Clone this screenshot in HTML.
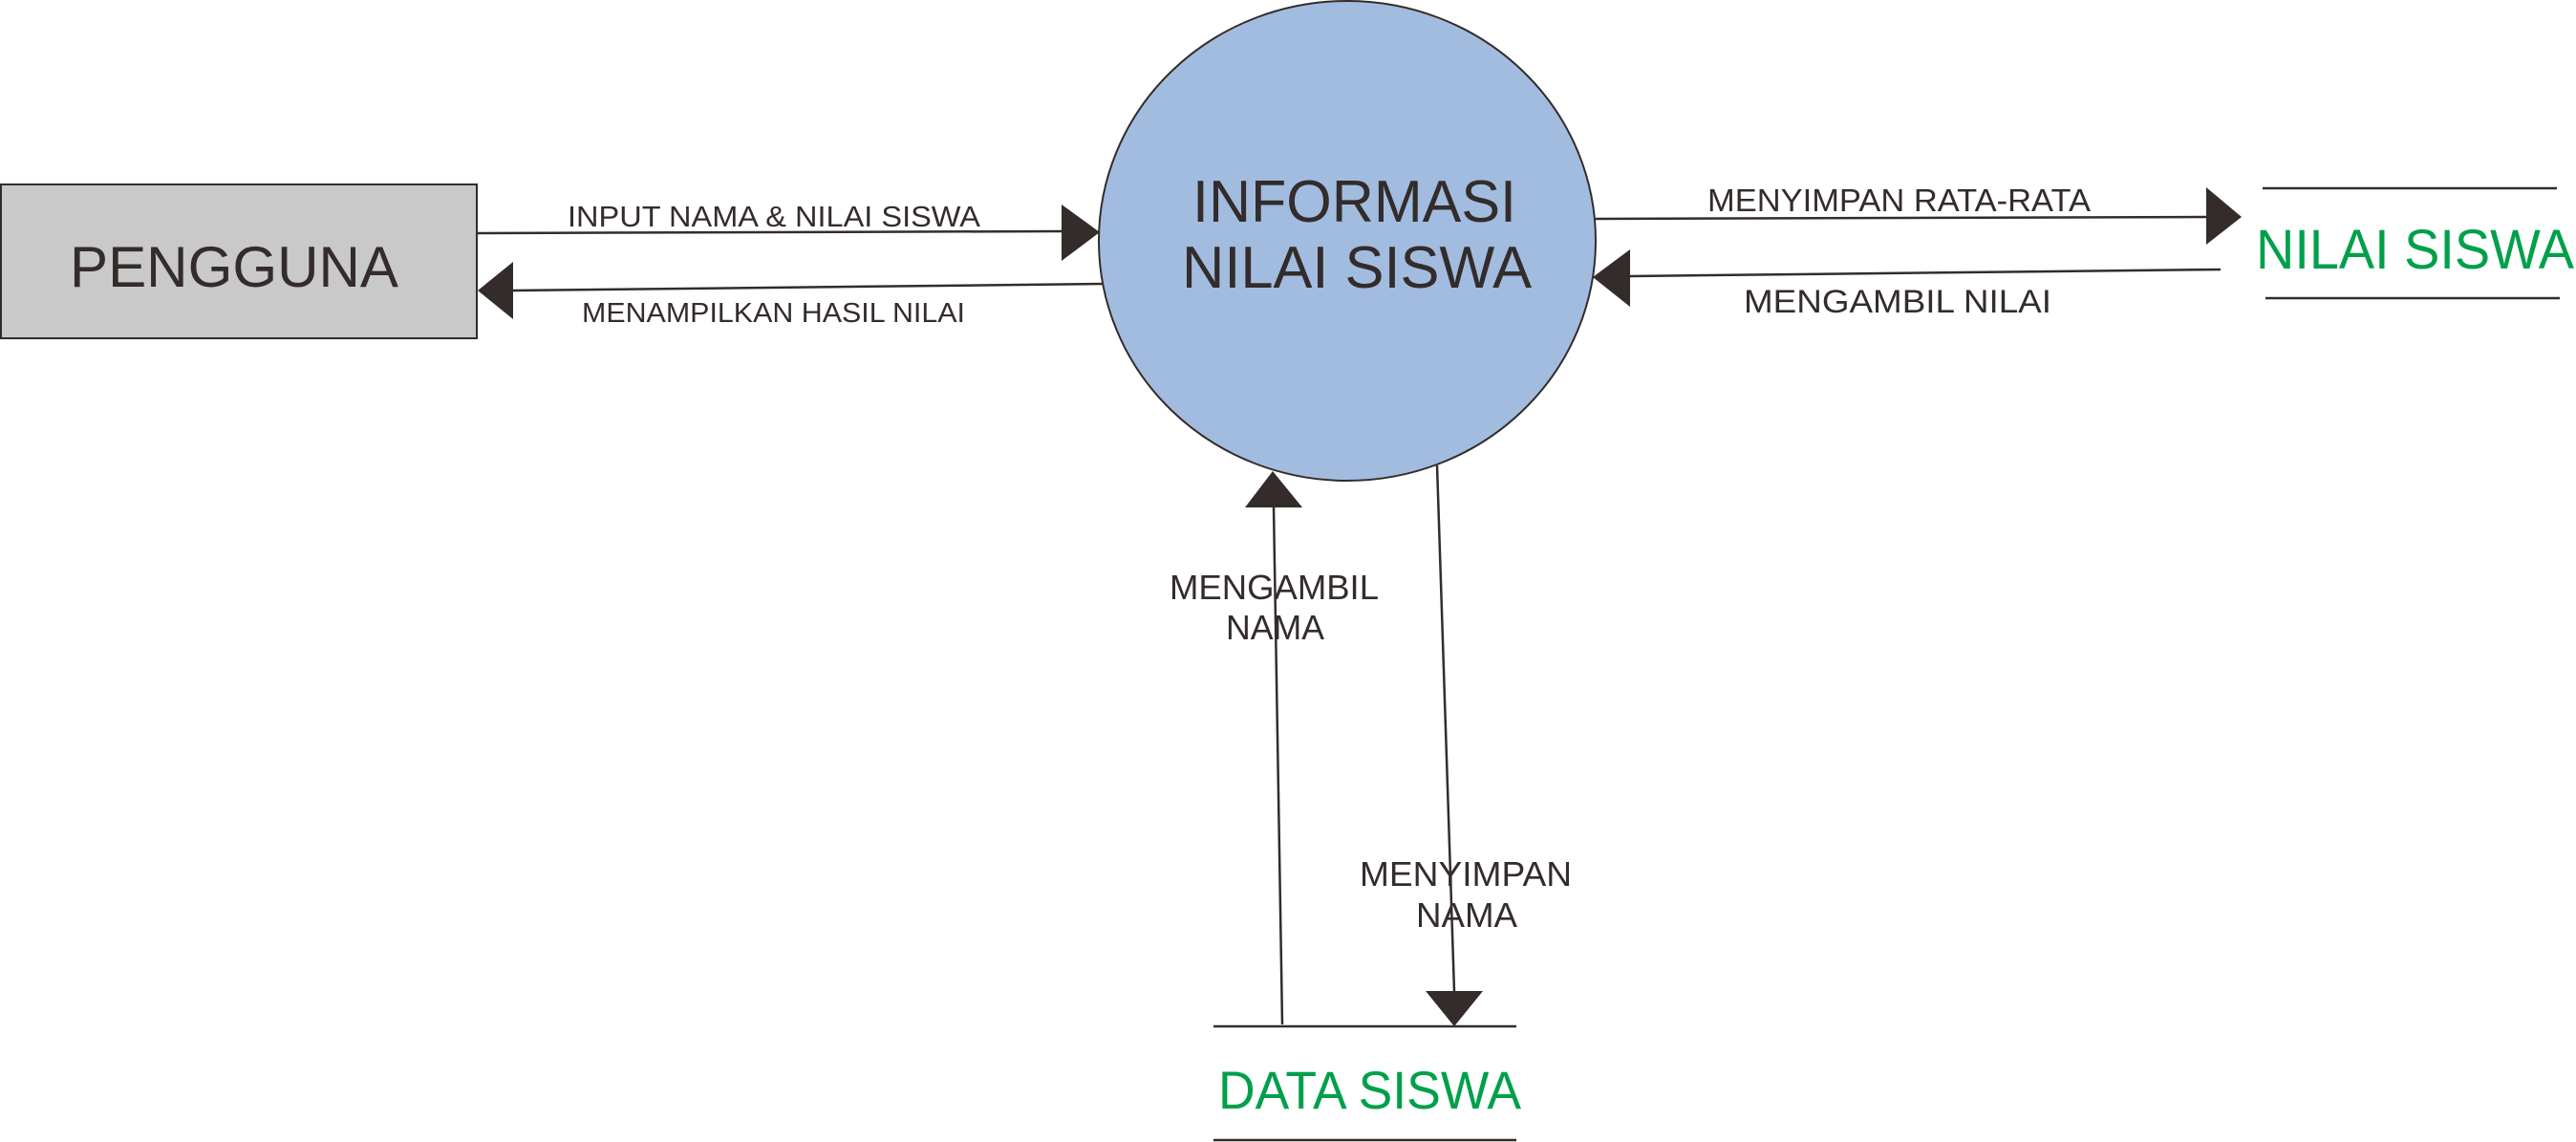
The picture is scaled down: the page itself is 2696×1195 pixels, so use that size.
<!DOCTYPE html>
<html><head><meta charset="utf-8"><style>html,body{margin:0;padding:0;background:#fff;}svg{display:block;}</style></head>
<body>
<svg width="2696" height="1195" viewBox="0 0 2696 1195" xmlns="http://www.w3.org/2000/svg" font-family="Liberation Sans, Arial, sans-serif">
<rect x="1" y="193" width="498" height="161" fill="#c8c9c8" stroke="#332c2b" stroke-width="2"/>
<text x="73" y="300" font-size="60" fill="#332c2b" textLength="344" lengthAdjust="spacingAndGlyphs">PENGGUNA</text>
<ellipse cx="1410" cy="252" rx="260" ry="251" fill="#a2bce0" stroke="#332c2b" stroke-width="2"/>
<text x="1248" y="232" font-size="62" fill="#332c2b" textLength="339" lengthAdjust="spacingAndGlyphs">INFORMASI</text>
<text x="1237" y="301" font-size="62" fill="#332c2b" textLength="366" lengthAdjust="spacingAndGlyphs">NILAI SISWA</text>
<g stroke="#332c2b" stroke-width="2.5" fill="none">
<line x1="499" y1="244" x2="1112" y2="242"/>
<line x1="1155" y1="297" x2="537" y2="304"/>
<line x1="1670" y1="229" x2="2310" y2="227"/>
<line x1="2324" y1="282" x2="1706" y2="289"/>
<line x1="1342" y1="1072" x2="1333" y2="530"/>
<line x1="1504" y1="487" x2="1522" y2="1038"/>
<line x1="2368" y1="197" x2="2676" y2="197"/>
<line x1="2371" y1="312" x2="2679" y2="312"/>
<line x1="1270" y1="1074" x2="1587" y2="1074"/>
<line x1="1270" y1="1193" x2="1587" y2="1193"/>
</g>
<g fill="#332c2b">
<polygon points="1111,214 1151,243 1111,273"/>
<polygon points="537,274 500,304 537,334"/>
<polygon points="2309,196 2346,227 2309,256"/>
<polygon points="1706,261 1667,290 1706,321"/>
<polygon points="1303,531 1332,493 1363,531"/>
<polygon points="1492,1037 1522,1074 1552,1037"/>
</g>
<g fill="#332c2b">
<text x="594" y="237" font-size="31" textLength="432" lengthAdjust="spacingAndGlyphs">INPUT NAMA &amp; NILAI SISWA</text>
<text x="609" y="337" font-size="29" textLength="401" lengthAdjust="spacingAndGlyphs">MENAMPILKAN HASIL NILAI</text>
<text x="1787" y="221" font-size="33" textLength="401" lengthAdjust="spacingAndGlyphs">MENYIMPAN RATA-RATA</text>
<text x="1825" y="327" font-size="34" textLength="322" lengthAdjust="spacingAndGlyphs">MENGAMBIL NILAI</text>
<text x="1224" y="627" font-size="36" textLength="219" lengthAdjust="spacingAndGlyphs">MENGAMBIL</text>
<text x="1283" y="669" font-size="36" textLength="103" lengthAdjust="spacingAndGlyphs">NAMA</text>
<text x="1423" y="927" font-size="36" textLength="222" lengthAdjust="spacingAndGlyphs">MENYIMPAN</text>
<text x="1482" y="970" font-size="36" textLength="106" lengthAdjust="spacingAndGlyphs">NAMA</text>
</g>
<text x="2361" y="281" font-size="58" fill="#00a04b" textLength="333" lengthAdjust="spacingAndGlyphs">NILAI SISWA</text>
<text x="1275" y="1160" font-size="56" fill="#00a04b" textLength="317" lengthAdjust="spacingAndGlyphs">DATA SISWA</text>
</svg>
</body></html>
